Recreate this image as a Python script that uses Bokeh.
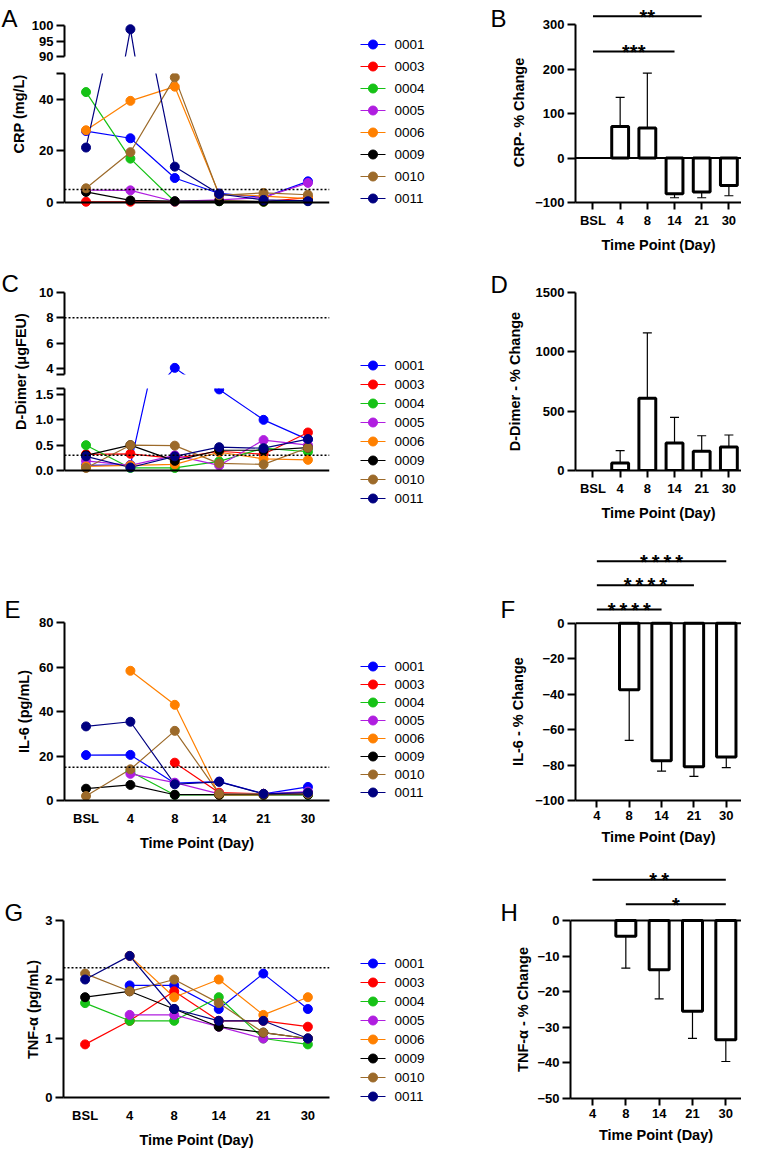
import math
from bokeh.plotting import figure
from bokeh.layouts import row, column
from bokeh.models import (FixedTicker, Span, Label, Whisker, TeeHead,
                          ColumnDataSource, NumeralTickFormatter, Range1d)
from bokeh.core.properties import value
from bokeh.embed import file_html
from bokeh.resources import INLINE

nan = float("nan")
FONT = "Liberation Sans"

# ---------------- data ----------------
days = ["BSL", "4", "8", "14", "21", "30"]
days_pct = ["4", "8", "14", "21", "30"]
patients = ["0001", "0003", "0004", "0005", "0006", "0009", "0010", "0011"]
colors = ["#0000FF", "#FF0000", "#16C216", "#B01EE0", "#FF8000", "#000000", "#9C6A2A", "#000080"]

# CRP (mg/L)
crp_0001 = [27.7, 24.9, 9.5, 3.5, 2.0, 8.2]
crp_0003 = [0.3, 0.3, 0.3, 0.6, 0.3, 1.9]
crp_0004 = [42.8, 17.0, 0.4, 0.5, 0.3, 0.6]
crp_0005 = [4.8, 4.7, 0.4, 1.0, 2.0, 7.6]
crp_0006 = [28.0, 39.4, 44.9, 3.2, 2.5, 1.5]
crp_0009 = [4.1, 0.8, 0.5, 0.5, 0.4, 0.8]
crp_0010 = [5.5, 19.5, 48.5, 2.8, 3.7, 3.0]
crp_0011 = [21.3, 98.8, 13.9, 3.3, 1.0, 0.5]
crp_limit = 5.0

# D-Dimer (ugFEU)
dd_0001 = [0.10, 0.11, 4.05, 1.60, 1.00, 0.61]
dd_0003 = [0.32, 0.33, 0.24, 0.38, 0.32, 0.75]
dd_0004 = [0.50, 0.05, 0.05, 0.18, 0.44, 0.37]
dd_0005 = [0.19, 0.10, 0.30, 0.10, 0.60, 0.50]
dd_0006 = [0.08, 0.10, 0.12, 0.36, 0.23, 0.21]
dd_0009 = [0.30, 0.50, 0.19, 0.40, 0.40, 0.45]
dd_0010 = [0.05, 0.50, 0.49, 0.14, 0.12, 0.45]
dd_0011 = [0.28, 0.06, 0.28, 0.46, 0.44, 0.62]
dd_limits = [0.3, 8.0]

# IL-6 (pg/mL)
il6_0001 = [20.4, 20.5, 7.8, 8.5, 3.0, 6.1]
il6_0003 = [nan, nan, 17.0, 3.5, 3.0, 3.0]
il6_0004 = [nan, 13.0, 2.5, 2.5, 2.5, 2.5]
il6_0005 = [nan, 12.0, 8.0, 3.0, 3.0, 4.0]
il6_0006 = [nan, 58.3, 43.0, 2.5, 2.5, 3.0]
il6_0009 = [5.3, 7.0, 2.6, 2.6, 2.6, 2.6]
il6_0010 = [2.0, 14.0, 31.3, 3.0, 3.0, 3.0]
il6_0011 = [33.3, 35.4, 7.3, 8.4, 3.0, 3.5]
il6_limit = 15.0

# TNF-alpha (pg/mL)
tnf_0001 = [nan, 1.9, 1.9, 1.5, 2.1, 1.5]
tnf_0003 = [0.9, 1.3, 1.8, 1.3, 1.3, 1.2]
tnf_0004 = [1.6, 1.3, 1.3, 1.7, 1.0, 0.9]
tnf_0005 = [nan, 1.4, 1.4, 1.2, 1.0, 1.0]
tnf_0006 = [nan, 2.4, 1.7, 2.0, 1.4, 1.7]
tnf_0009 = [1.7, 1.8, 1.5, 1.2, 1.1, 1.0]
tnf_0010 = [2.1, 1.8, 2.0, 1.6, 1.1, 1.0]
tnf_0011 = [2.0, 2.4, 1.5, 1.3, 1.3, 1.0]
tnf_limit = 2.2

# % change (mean, SD)
crp_pct = [0, 71.3, 67.5, -80.3, -76.5, -61.5]
crp_pct_sd = [0, 65.2, 123.8, 9.0, 12.8, 23.3]
dd_pct = [0, 64, 609, 232, 162, 198]
dd_pct_sd = [0, 104, 550, 215, 131, 101]
il6_pct = [0, -37.5, -77.6, -81.0, -75.5]
il6_pct_sd = [0, 28.6, 5.8, 5.4, 6.0]
tnf_pct = [0, -4.4, -13.8, -25.5, -33.5]
tnf_pct_sd = [0, 9.0, 8.2, 7.6, 6.1]

crp = [crp_0001, crp_0003, crp_0004, crp_0005, crp_0006, crp_0009, crp_0010, crp_0011]
dd = [dd_0001, dd_0003, dd_0004, dd_0005, dd_0006, dd_0009, dd_0010, dd_0011]
il6 = [il6_0001, il6_0003, il6_0004, il6_0005, il6_0006, il6_0009, il6_0010, il6_0011]
tnf = [tnf_0001, tnf_0003, tnf_0004, tnf_0005, tnf_0006, tnf_0009, tnf_0010, tnf_0011]


# ---------------- helpers ----------------
class Panel:
    def __init__(self, canvas, frame, xr, yr, xaxis=False, yaxis=False):
        cx, cy, cw, ch = canvas
        fx, fy, fw, fh = frame
        self.fx, self.fy, self.fw, self.fh = fx, fy, fw, fh
        self.xr, self.yr = xr, yr
        p = figure(width=cw, height=ch, x_range=Range1d(*xr), y_range=Range1d(*yr),
                   min_border_left=fx - cx, min_border_right=cx + cw - fx - fw,
                   min_border_top=fy - cy, min_border_bottom=cy + ch - fy - fh,
                   x_axis_location="below" if xaxis else None,
                   y_axis_location="left" if yaxis else None,
                   tools="", toolbar_location=None, output_backend="svg")
        p.outline_line_color = None
        p.grid.visible = False
        self.p = p

    def dx(self, px):
        return self.xr[0] + (px - self.fx) * (self.xr[1] - self.xr[0]) / self.fw

    def dy(self, py):
        return self.yr[1] - (py - self.fy) * (self.yr[1] - self.yr[0]) / self.fh


def gutter(canvas):
    return Panel(canvas, canvas, (0, 1), (0, 1))


def add_text(pan, px, py, s, size, bold=True, align="center", baseline="middle",
             angle=0.0, xdata=None):
    x = xdata if xdata is not None else pan.dx(px)
    pan.p.add_layout(Label(x=x, y=pan.dy(py), text=s, text_font=FONT,
                           text_font_size=f"{size}px",
                           text_font_style="bold" if bold else "normal",
                           text_align=align, text_baseline=baseline, angle=angle,
                           text_color="black"))


def letter(pan, px, py, s):
    add_text(pan, px, py, s, 24, bold=False, align="left", baseline="alphabetic")


def ytitle(pan, px, py, s):
    add_text(pan, px, py, s, 14.5, angle=math.pi / 2)


def style_y(pan, major, minor=(), fmt=None, bounds=None):
    ax = pan.p.yaxis[0]
    ax.ticker = FixedTicker(ticks=list(major), minor_ticks=list(minor))
    ax.axis_line_width = 2
    ax.major_tick_line_width = 2
    ax.minor_tick_line_width = 2
    ax.major_tick_out = 8
    ax.major_tick_in = 0
    ax.minor_tick_out = 8
    ax.minor_tick_in = 0
    ax.major_label_standoff = 3
    ax.major_label_text_font = FONT
    ax.major_label_text_font_style = "bold"
    ax.major_label_text_font_size = "13px"
    ax.major_label_text_color = "black"
    if fmt:
        ax.formatter = NumeralTickFormatter(format=fmt)
    if bounds:
        ax.bounds = bounds


def style_x(pan, labels, tick_out, standoff, fixed=None):
    ax = pan.p.xaxis[0]
    ax.ticker = FixedTicker(ticks=list(range(len(labels))), minor_ticks=[])
    ax.major_label_overrides = {i: s for i, s in enumerate(labels)}
    ax.axis_line_width = 2
    ax.major_tick_line_width = 2
    ax.major_tick_out = tick_out
    ax.major_tick_in = 0
    if tick_out == 0:
        ax.major_tick_line_color = None
    ax.minor_tick_out = 0
    ax.minor_tick_in = 0
    ax.major_label_standoff = standoff
    ax.major_label_text_font = FONT
    ax.major_label_text_font_style = "bold"
    ax.major_label_text_font_size = "13px"
    ax.major_label_text_color = "black"
    ax.axis_label = "Time Point (Day)"
    ax.axis_label_standoff = 6
    ax.axis_label_text_font = FONT
    ax.axis_label_text_font_style = "bold"
    ax.axis_label_text_font_size = "14.5px"
    ax.axis_label_text_color = "black"
    if fixed is not None:
        ax.fixed_location = fixed


def draw_series(pan, data, lo, hi):
    xs = list(range(len(days)))
    for vals, c in zip(data, colors):
        pan.p.line(xs, vals, line_color=c, line_width=1.2)
    for vals, c in zip(data, colors):
        yv = [v if (not math.isnan(v) and lo <= v <= hi) else nan for v in vals]
        pan.p.scatter(xs, yv, size=9, fill_color=c, line_color=c)


def dotted(pan, v):
    pan.p.add_layout(Span(location=v, dimension="width", line_color="black",
                          line_width=1.5, line_dash="2 2"))


def draw_bars(pan, means, sds, width):
    xs = [i for i, m in enumerate(means) if m != 0]
    pan.p.vbar(x=xs, top=[means[i] for i in xs], bottom=0, width=width,
               fill_color="white", line_color="black", line_width=3)
    pos = [i for i in xs if means[i] > 0]
    neg = [i for i in xs if means[i] < 0]
    if pos:
        src = ColumnDataSource(dict(x=pos, lower=[means[i] for i in pos],
                                    upper=[means[i] + sds[i] for i in pos]))
        pan.p.add_layout(Whisker(source=src, base="x", lower="lower", upper="upper",
                                 line_color="black", line_width=1.2, lower_head=None,
                                 upper_head=TeeHead(size=9, line_width=1.2, line_color="black")))
    if neg:
        src = ColumnDataSource(dict(x=neg, lower=[means[i] - sds[i] for i in neg],
                                    upper=[means[i] for i in neg]))
        pan.p.add_layout(Whisker(source=src, base="x", lower="lower", upper="upper",
                                 line_color="black", line_width=1.2, upper_head=None,
                                 lower_head=TeeHead(size=9, line_width=1.2, line_color="black")))


def sig(pan, i0, i1, py_line, py_text, txt):
    y = pan.dy(py_line)
    pan.p.segment(x0=[i0], y0=[y], x1=[i1], y1=[y], line_color="black", line_width=2)
    add_text(pan, 0, py_text + 0.575 * 20, txt, 20, baseline="alphabetic", xdata=(i0 + i1) / 2)


def legend_panel(canvas, first_center, pitch):
    pan = gutter(canvas)
    n = len(patients)
    ys = [pan.dy(first_center + i * pitch) for i in range(n)]
    x0, x1, xm, xt = pan.dx(368), pan.dx(393), pan.dx(380.5), pan.dx(402)
    pan.p.segment(x0=[x0] * n, y0=ys, x1=[x1] * n, y1=ys, line_color=colors, line_width=1.2)
    pan.p.scatter(x=[xm] * n, y=ys, size=9, fill_color=colors, line_color=colors)
    pan.p.text(x=[xt] * n, y=ys, text=patients, text_font=value(FONT),
               text_font_size="13.5px", text_baseline="middle", text_align="left",
               text_color="black")
    return pan


def W(*figs):
    # wrap plots in their own column so that the row does not align their frames
    return column(*[f.p for f in figs])


XL = (-0.485, -0.485 + 267 / 44.72)
XB = (-18 / 28, -18 / 28 + 171 / 28)
XF = (-22 / 33.33, -22 / 33.33 + 171 / 33.33)
ts = "\u2009"

# ---------------- row 1 : A / B ----------------
gl1 = gutter((8, 8, 28, 260))
letter(gl1, 9, 26, "A")
ytitle(gl1, 26, 121.5, "CRP (mg/L)")

a_up = Panel((36, 8, 319, 64), (70, 27, 267, 37), XL, (90, 100 + 6 / 3.1), yaxis=True)
style_y(a_up, [90, 95, 100], bounds=(90, 100))
draw_series(a_up, crp, 90, 110)

a_lo = Panel((36, 72, 319, 196), (70, 81, 267, 135), XL, (-6 / 2.58, 50),
             xaxis=True, yaxis=True)
style_y(a_lo, [0, 20, 40], [50 - 1e-6], bounds=(0, 50))
style_x(a_lo, days, 0, 10, fixed=0)
dotted(a_lo, crp_limit)
draw_series(a_lo, crp, -5, 50)

leg1 = legend_panel((355, 8, 125, 260), 52, 22)

gr1 = gutter((480, 8, 60, 260))
letter(gr1, 498, 26, "B")
ytitle(gr1, 526, 120, "CRP- % Change")

bp = Panel((540, 8, 209, 260), (578, 8, 171, 202), XB, (-100, -100 + 202 / 0.44425),
           xaxis=True, yaxis=True)
style_y(bp, [-100, 0, 100, 200, 300], bounds=(-100, 300))
style_x(bp, days, 7, 3)
bp.p.add_layout(Span(location=0, dimension="width", line_color="black", line_width=2))
draw_bars(bp, crp_pct, crp_pct_sd, 0.62)
sig(bp, 0, 4, 23.7, 13, "**")
sig(bp, 0, 3, 59, 48, "***")

row1 = row(W(gl1), W(a_up, a_lo), W(leg1), W(gr1), W(bp))

# ---------------- row 2 : C / D ----------------
gl2 = gutter((8, 268, 32, 277))
letter(gl2, 9, 291, "C")
ytitle(gl2, 28.3, 379, "D-Dimer (μgFEU)")

c_bot = 10 - 82 / 12.667
c_up = Panel((40, 268, 315, 121), (70, 300, 267, 82), XL, (c_bot, 10), yaxis=True)
style_y(c_up, [4, 6, 8, 10], [c_bot + 1e-6])
dotted(c_up, dd_limits[1])
draw_series(c_up, dd, c_bot, 10)

c_top = 82 / 50.67
c_lo = Panel((40, 389, 315, 156), (70, 396, 267, 87), XL, (-5 / 50.67, c_top),
             xaxis=True, yaxis=True)
style_y(c_lo, [0, 0.5, 1.0, 1.5], [c_top - 1e-6], fmt="0.0", bounds=(0, c_top))
style_x(c_lo, days, 0, 10, fixed=0)
dotted(c_lo, dd_limits[0])
draw_series(c_lo, dd, -1, c_top)

leg2 = legend_panel((355, 268, 125, 277), 373, 19)

gr2 = gutter((480, 268, 60, 277))
letter(gr2, 498, 292, "D")
ytitle(gr2, 522.7, 389, "D-Dimer - % Change")

dp = Panel((540, 268, 209, 277), (578, 300, 171, 178), XB, (0, 1500), xaxis=True, yaxis=True)
style_y(dp, [0, 500, 1000, 1500])
style_x(dp, days, 7, 3)
draw_bars(dp, dd_pct, dd_pct_sd, 0.62)

row2 = row(W(gl2), W(c_up, c_lo), W(leg2), W(gr2), W(dp))

# ---------------- row 3 : E / F ----------------
gl3 = gutter((8, 545, 36, 317))
letter(gl3, 12, 617, "E")
ytitle(gl3, 31.7, 719, "IL-6 (pg/mL)")

ep = Panel((44, 545, 311, 317), (70, 630, 267, 178), XL, (0, 80), xaxis=True, yaxis=True)
style_y(ep, [0, 20, 40, 60, 80])
style_x(ep, days, 0, 10)
dotted(ep, il6_limit)
draw_series(ep, il6, 0, 80)

leg3 = legend_panel((355, 545, 125, 317), 674, 18)

gr3 = gutter((480, 545, 60, 317))
letter(gr3, 508, 617, "F")
ytitle(gr3, 525, 719, "IL-6 - % Change")

fp = Panel((540, 545, 209, 317), (578, 550, 171, 258), XF, (-100, -100 + 258 / 1.773),
           xaxis=True, yaxis=True)
style_y(fp, [-100, -80, -60, -40, -20, 0], bounds=(-100, 0))
style_x(fp, days_pct, 7, 3)
fp.p.add_layout(Span(location=0, dimension="width", line_color="black", line_width=2))
draw_bars(fp, il6_pct, il6_pct_sd, 0.6)
sig(fp, 0, 4, 568.7, 557.7, ts.join("****"))
sig(fp, 0, 3, 592.7, 581, ts.join("****"))
sig(fp, 0, 2, 617, 606, ts.join("****"))

row3 = row(W(gl3), W(ep), W(leg3), W(gr3), W(fp))

# ---------------- row 4 : G / H ----------------
gl4 = gutter((8, 862, 42, 296))
letter(gl4, 12, 920, "G")
ytitle(gl4, 40, 1017, "TNF-α (pg/mL)")

gp = Panel((50, 862, 305, 296), (70, 928, 267, 178), XL, (0, 3), xaxis=True, yaxis=True)
style_y(gp, [0, 1, 2, 3])
style_x(gp, days, 0, 10)
dotted(gp, tnf_limit)
draw_series(gp, tnf, 0, 3)

leg4 = legend_panel((355, 862, 125, 296), 971, 19)

gr4 = gutter((480, 862, 60, 296))
letter(gr4, 508, 920, "H")
ytitle(gr4, 530, 1017, "TNF-α - % Change")

hp = Panel((540, 862, 209, 296), (578, 866, 171, 240), XF, (-50, -50 + 240 / 3.56),
           xaxis=True, yaxis=True)
style_y(hp, [-50, -40, -30, -20, -10, 0], bounds=(-50, 0))
style_x(hp, days_pct, 7, 3)
hp.p.add_layout(Span(location=0, dimension="width", line_color="black", line_width=2))
draw_bars(hp, tnf_pct, tnf_pct_sd, 0.6)
sig(hp, 0, 4, 887.3, 876.3, ts.join("**"))
sig(hp, 1, 4, 911.7, 900.7, "*")

row4 = row(W(gl4), W(gp), W(leg4), W(gr4), W(hp))

layout = column(row1, row2, row3, row4)
open("out.html", "w").write(file_html(layout, INLINE, title="Biomarkers"))
